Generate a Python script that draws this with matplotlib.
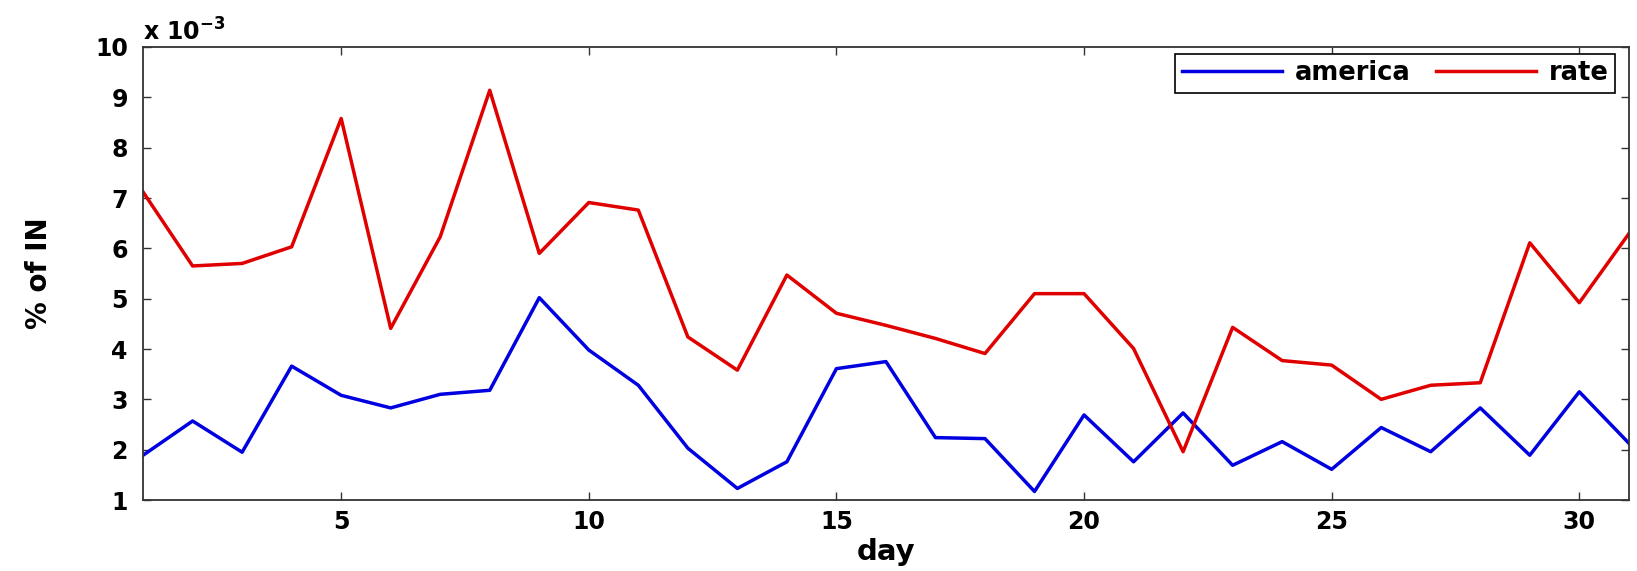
import matplotlib
matplotlib.use("Agg")
import matplotlib.pyplot as plt
from matplotlib.ticker import FuncFormatter
import numpy as np

# values read in units of 1e-3
day = np.arange(1, 32)
america = [1.89, 2.57, 1.95, 3.66, 3.08, 2.83, 3.10, 3.18, 5.02, 3.98,
           3.28, 2.03, 1.23, 1.76, 3.61, 3.75, 2.24, 2.22, 1.17, 2.69,
           1.76, 2.73, 1.69, 2.16, 1.61, 2.44, 1.96, 2.83, 1.89, 3.15, 2.13]
rate = [7.12, 5.65, 5.70, 6.03, 8.58, 4.41, 6.23, 9.14, 5.90, 6.91,
        6.76, 4.24, 3.58, 5.47, 4.71, 4.47, 4.21, 3.91, 5.10, 5.10,
        4.01, 1.96, 4.43, 3.77, 3.68, 3.00, 3.28, 3.33, 6.11, 4.92, 6.29]
scale = 1e-3

plt.rcParams['font.family'] = ['DejaVu Sans']
plt.rcParams['font.weight'] = 'bold'
plt.rcParams['axes.labelweight'] = 'bold'

fig = plt.figure(figsize=(16.37, 5.71), dpi=100)
ax = fig.add_axes([0.0874, 0.1243, 0.9076, 0.7934])

ax.plot(day, np.array(america) * scale, color='#0000e0', lw=2.5, label='america')
ax.plot(day, np.array(rate) * scale, color='#e00000', lw=2.5, label='rate')

ax.set_xlim(1, 31)
ax.set_ylim(1 * scale, 10 * scale)
ax.set_xticks([5, 10, 15, 20, 25, 30])
ax.set_yticks(np.arange(1, 11) * scale)
ax.yaxis.set_major_formatter(FuncFormatter(lambda v, p: '%d' % round(v / scale)))

ax.tick_params(direction='in', length=6, width=1, top=True, right=True,
               labelsize=17, color='#333333')
ax.tick_params(axis='y', pad=11)
ax.tick_params(axis='x', pad=7)
for s in ax.spines.values():
    s.set_color('#333333')
    s.set_linewidth(1.3)

ax.text(0.0, 1.002, r'x 10$^{\mathbf{-3}}$', transform=ax.transAxes, fontsize=17,
        ha='left', va='bottom')

ax.set_xlabel('day', fontsize=21, labelpad=3)
ax.set_ylabel('% of IN', fontsize=20, labelpad=30)

leg = ax.legend(loc='upper right', ncol=2, fontsize=18.5, frameon=True,
                fancybox=False, edgecolor='black', framealpha=1,
                bbox_to_anchor=(0.991, 0.985), borderaxespad=0,
                handlelength=3.9, columnspacing=1.0, handletextpad=0.5,
                borderpad=0.25)
leg.get_frame().set_linewidth(1.2)

fig.savefig('out.png', dpi=100)
